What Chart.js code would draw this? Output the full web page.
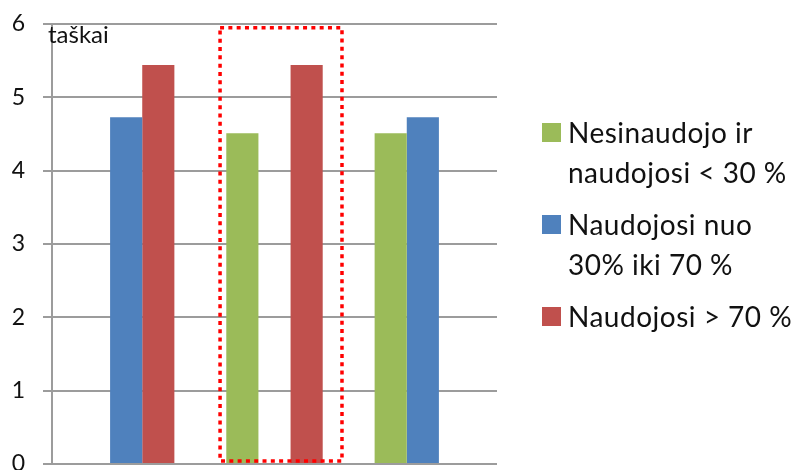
<!DOCTYPE html>
<html>
<head>
<meta charset="utf-8">
<script src="https://cdn.jsdelivr.net/npm/chart.js@4"></script>
<style>
  html, body { margin: 0; padding: 0; background: #fff; overflow: hidden; }
  #wrap { position: relative; width: 791px; height: 470px; }
  #legend { position: absolute; left: 542px; top: 112px; font-family: Lato, "Open Sans", sans-serif; font-size: 28px; letter-spacing: 0.5px; color: #111; }
  .item { position: relative; padding-left: 26px; line-height: 40px; margin-bottom: 12px; white-space: nowrap; }
  .item span.box { position: absolute; left: 0; top: 11px; width: 19px; height: 19px; }
</style>
</head>
<body>
<div id="wrap">
  <canvas id="grafico" width="791" height="470"></canvas>
  <div id="legend"></div>
</div>
<script>
// datos
const categorias = ['1', '2', '3'];
const series = [
  ['Nesinaudojo ir', 'naudojosi < 30 %'],
  ['Naudojosi nuo', '30% iki 70 %'],
  ['Naudojosi > 70 %']
];
const valoresVerde = [null, 4.51, 4.51];
const valoresAzul = [4.73, null, 4.73];
const valoresRojo = [5.44, 5.44, null];
const colores = ['#9bbb59', '#4f81bd', '#c0504d'];
const ticksY = [0, 1, 2, 3, 4, 5, 6];
const tituloY = 'taškai';

const gris = '#9c9c9c';

// leyenda html
const legend = document.getElementById('legend');
series.forEach((lineas, i) => {
  const div = document.createElement('div');
  div.className = 'item';
  div.innerHTML = '<span class="box" style="background:' + colores[i] + '"></span>' + lineas.join('<br>');
  legend.appendChild(div);
});

// eje, titulo del eje y recuadro punteado
const extras = {
  id: 'extras',
  beforeDatasetsDraw(chart) {
    const c = chart.ctx;
    const area = chart.chartArea;
    c.save();
    c.strokeStyle = gris;
    c.lineWidth = 2;
    c.beginPath();
    c.moveTo(area.left, area.top - 1);
    c.lineTo(area.left, area.bottom + 1);
    c.stroke();
    c.restore();
  },
  afterDatasetsDraw(chart) {
    const c = chart.ctx;
    const x = chart.scales.x;
    const y = chart.scales.y;
    const area = chart.chartArea;
    const centro = x.getPixelForValue(1);
    const ancho = x.getPixelForValue(1) - x.getPixelForValue(0);
    c.save();
    c.strokeStyle = '#ff0000';
    c.lineWidth = 3.5;
    c.setLineDash([4, 4.3]);
    c.strokeRect(centro - 0.367 * ancho, y.getPixelForValue(5.95),
      0.822 * ancho, y.getPixelForValue(0.04) - y.getPixelForValue(5.95));
    c.restore();

    c.save();
    c.fillStyle = '#111';
    c.font = '24px Lato, "Open Sans", sans-serif';
    c.textBaseline = 'alphabetic';
    c.fillText(tituloY, area.left - 4, area.top + 19);
    c.restore();
  }
};

const ctx = document.getElementById('grafico').getContext('2d');

const data = {
  labels: categorias,
  datasets: [
    { label: series[0].join(' '), data: valoresVerde, backgroundColor: colores[0] },
    { label: series[1].join(' '), data: valoresAzul, backgroundColor: colores[1] },
    { label: series[2].join(' '), data: valoresRojo, backgroundColor: colores[2] }
  ]
};

const options = {
  responsive: false,
  animation: false,
  layout: { padding: { top: 24, bottom: 6, left: 0, right: 294 } },
  datasets: { bar: { categoryPercentage: 0.65, barPercentage: 1.0, borderWidth: 0 } },
  scales: {
    x: { display: false, grid: { display: false }, border: { display: false } },
    y: {
      min: 0,
      max: 6,
      afterBuildTicks(scale) { scale.ticks = ticksY.map(v => ({ value: v })); },
      afterFit(scale) {
        scale.width = 52;
        scale.paddingTop = 0;
        scale.paddingBottom = 0;
      },
      ticks: {
        padding: 18,
        color: '#111',
        font: { family: 'Lato, "Open Sans", sans-serif', size: 23 }
      },
      grid: { color: gris, lineWidth: 2, tickLength: 9, drawTicks: true },
      border: { display: false }
    }
  },
  plugins: {
    legend: { display: false },
    tooltip: { enabled: false }
  }
};

const miGrafico = new Chart(ctx, {
  type: 'bar',
  data: data,
  options: options,
  plugins: [extras]
});
</script>
</body>
</html>
